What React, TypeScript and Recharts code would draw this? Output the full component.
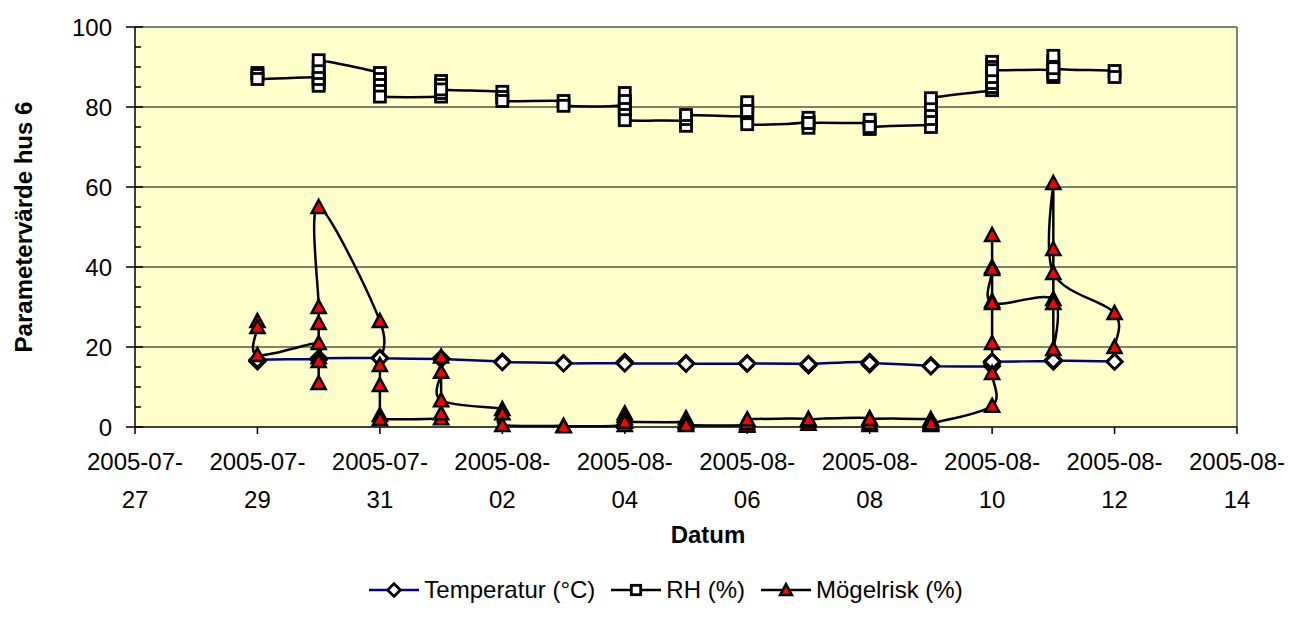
import React from "react";
import {
  LineChart,
  Line,
  XAxis,
  YAxis,
  CartesianGrid,
  Legend,
  ReferenceLine,
} from "recharts";

// Dagar efter 2005-07-27 (flera mätningar per dag)
const dagar = [
  2, 2, 2,
  3, 3, 3, 3, 3, 3, 3,
  4, 4, 4, 4, 4,
  5, 5, 5, 5, 5,
  6, 6, 6,
  7, 7,
  8, 8, 8, 8, 8, 8,
  9, 9, 9, 9,
  10, 10, 10, 10, 10,
  11, 11, 11, 11,
  12, 12, 12, 12,
  13, 13, 13, 13, 13, 13,
  14, 14, 14, 14, 14, 14, 14, 14,
  15, 15, 15, 15, 15, 15,
  16, 16,
];

const temperatur = [
  16.4, 16.6, 16.8,
  17.0, 16.8, 16.9, 17.1, 17.0, 17.1, 17.2,
  17.3, 17.2, 17.2, 17.3, 17.2,
  17.0, 17.1, 17.2, 17.0, 17.0,
  16.4, 16.3, 16.2,
  16.0, 15.9,
  16.0, 16.2, 16.3, 16.1, 16.0, 15.9,
  15.9, 16.0, 15.9, 15.8,
  15.9, 16.0, 15.9, 15.8, 15.9,
  15.8, 15.4, 15.5, 15.7,
  16.3, 15.6, 15.8, 16.0,
  15.3, 15.2, 15.3, 15.4, 15.3, 15.2,
  15.2, 15.8, 16.3, 16.3, 16.2, 16.3, 16.4, 16.3,
  16.5, 16.3, 16.8, 16.9, 16.7, 16.6,
  16.4, 16.3,
];

const rh = [
  88.5, 88.0, 87.0,
  87.4, 86.0, 85.3, 87.0, 88.5, 90.0, 91.7,
  88.5, 87.0, 85.5, 84.0, 82.6,
  82.6, 83.5, 86.5, 85.5, 84.4,
  83.8, 82.5, 81.5,
  81.5, 80.3,
  80.5, 83.5, 81.5, 79.5, 78.0, 76.7,
  76.5, 75.3, 77.0, 78.0,
  77.8, 80.5, 81.2, 79.0, 75.7,
  76.2, 77.3, 74.8, 76.0,
  76.0, 76.8, 74.5, 75.0,
  75.5, 75.0, 77.0, 79.0, 80.5, 82.2,
  84.2, 85.0, 86.0, 87.5, 90.5, 91.3, 90.0, 89.2,
  89.2, 87.5, 88.0, 91.5, 92.8, 89.7,
  89.0, 87.5,
];

const mogelrisk = [
  26.5, 25.0, 18.0,
  21.0, 17.5, 11.0, 16.5, 26.0, 30.0, 55.0,
  26.5, 15.5, 10.5, 3.0, 2.0,
  2.2, 3.4, 17.6, 13.8, 6.7,
  4.5, 3.4, 0.5,
  0.3, 0.2,
  0.5, 3.4, 2.8, 2.2, 1.5, 1.3,
  1.3, 2.2, 1.0, 0.5,
  0.5, 1.8, 0.3, 1.0, 1.9,
  2.0, 0.8, 1.5, 1.9,
  2.2, 0.5, 1.0, 2.0,
  2.0, 1.5, 0.5, 0.8, 1.2, 0.9,
  5.3, 13.5, 21.0, 31.5, 40.0, 48.0, 39.5, 31.0,
  32.0, 19.5, 31.0, 44.5, 61.0, 38.5,
  28.5, 20.0,
];

const xTicks = [0, 2, 4, 6, 8, 10, 12, 14, 16, 18];
const xTickTop = [
  "2005-07-", "2005-07-", "2005-07-", "2005-08-", "2005-08-",
  "2005-08-", "2005-08-", "2005-08-", "2005-08-", "2005-08-",
];
const xTickBottom = ["27", "29", "31", "02", "04", "06", "08", "10", "12", "14"];
const yTicks = Array.from({ length: 21 }, (_, i) => i * 5);
const legendOrder = ["temp", "rh", "mogel"];

const data = dagar.map((d, i) => ({
  dag: d,
  temp: temperatur[i],
  rh: rh[i],
  mogel: mogelrisk[i],
}));

const FONT = '"Liberation Sans", Arial, sans-serif';

// Excel-liknande utjämnad linje (Catmull-Rom som Bezier)
const excelSmooth = (context: any) => {
  let pts: number[][] = [];
  return {
    areaStart() {},
    areaEnd() {},
    lineStart() {
      pts = [];
    },
    point(x: number, y: number) {
      pts.push([+x, +y]);
    },
    lineEnd() {
      if (!pts.length) return;
      context.moveTo(pts[0][0], pts[0][1]);
      for (let i = 0; i < pts.length - 1; i++) {
        const p0 = pts[i - 1] || pts[i];
        const p1 = pts[i];
        const p2 = pts[i + 1];
        const p3 = pts[i + 2] || p2;
        context.bezierCurveTo(
          p1[0] + (p2[0] - p0[0]) / 6,
          p1[1] + (p2[1] - p0[1]) / 6,
          p2[0] - (p3[0] - p1[0]) / 6,
          p2[1] - (p3[1] - p1[1]) / 6,
          p2[0],
          p2[1]
        );
      }
    },
  };
};

const markerShape = (kind: string, cx: number, cy: number, s = 1, key?: string) => {
  if (kind === "temp") {
    const r = 7.5 * s;
    return (
      <path
        key={key}
        d={`M${cx},${cy - r}L${cx + r},${cy}L${cx},${cy + r}L${cx - r},${cy}Z`}
        fill="#fff"
        stroke="#000"
        strokeWidth={2.8}
      />
    );
  }
  if (kind === "rh") {
    const w = 5.5 * s;
    return (
      <rect
        key={key}
        x={cx - w}
        y={cy - w}
        width={2 * w}
        height={2 * w}
        fill="#fff"
        stroke="#000"
        strokeWidth={2.8}
      />
    );
  }
  const h = 7 * s;
  return (
    <path
      key={key}
      d={`M${cx},${cy - h}L${cx + h},${cy + h * 0.85}L${cx - h},${cy + h * 0.85}Z`}
      fill="#ff0000"
      stroke="#000"
      strokeWidth={2.5}
    />
  );
};

const makeDot = (kind: string) => (p: any) => {
  if (p.cx == null || p.cy == null) return null;
  return markerShape(kind, p.cx, p.cy, 1, `${kind}-${p.index}`);
};

const XTick = (props: any) => {
  const { x, y, payload } = props;
  const i = xTicks.indexOf(payload.value);
  return (
    <text x={x} y={y} textAnchor="middle" fontSize={24} fontFamily={FONT} fill="#000">
      <tspan x={x} dy={36}>{xTickTop[i]}</tspan>
      <tspan x={x} dy={38}>{xTickBottom[i]}</tspan>
    </text>
  );
};

const YTick = (props: any) => {
  const { x, y, payload } = props;
  const major = payload.value % 20 === 0;
  return (
    <g>
      {major ? (
        <line x1={x - 9} x2={x + 8} y1={y} y2={y} stroke="#000" strokeWidth={1.5} />
      ) : (
        <line x1={x} x2={x + 6} y1={y} y2={y} stroke="#000" strokeWidth={1.5} />
      )}
      {major && (
        <text x={x - 23} y={y} dy="0.36em" textAnchor="end" fontSize={24} fontFamily={FONT} fill="#000">
          {payload.value}
        </text>
      )}
    </g>
  );
};

const renderLegend = (props: any) => {
  const items = [...(props.payload || [])].sort(
    (a: any, b: any) => legendOrder.indexOf(a.dataKey) - legendOrder.indexOf(b.dataKey)
  );
  return (
    <div
      style={{
        display: "flex",
        justifyContent: "center",
        alignItems: "center",
        fontSize: 24,
        fontFamily: FONT,
        whiteSpace: "nowrap",
        color: "#000",
      }}
    >
      {items.map((entry: any) => (
        <div key={entry.value} style={{ display: "flex", alignItems: "center", margin: "0 8px" }}>
          <svg width={50} height={22}>
            <line x1={0} x2={50} y1={11} y2={11} stroke={entry.color} strokeWidth={2.5} />
            {markerShape(entry.dataKey, 25, 11, 0.85)}
          </svg>
          <span style={{ marginLeft: 5 }}>{entry.value}</span>
        </div>
      ))}
    </div>
  );
};

const App: React.FC = () => {
  return (
    <div style={{ position: "absolute", left: 0, top: 0, width: 1292, height: 626, background: "#fff", fontFamily: FONT }}>
      <LineChart width={1292} height={626} data={data} margin={{ top: 27, right: 55, left: 0, bottom: 0 }}>
        <CartesianGrid
          vertical={false}
          horizontalValues={[20, 40, 60, 80]}
          fill="#FFFFCC"
          fillOpacity={1}
          stroke="#000"
          strokeWidth={1}
        />
        <XAxis
          dataKey="dag"
          type="number"
          domain={[0, 18]}
          ticks={xTicks}
          interval={0}
          tickSize={7}
          tickMargin={0}
          height={169}
          axisLine={{ stroke: "#000", strokeWidth: 1.5 }}
          tickLine={{ stroke: "#000", strokeWidth: 1.5 }}
          tick={<XTick />}
          label={{
            content: (p: any) => {
              const vb = p.viewBox || {};
              return (
                <text
                  x={vb.x + vb.width / 2 + 22}
                  y={vb.y + 116}
                  textAnchor="middle"
                  fontSize={24}
                  fontWeight="bold"
                  fontFamily={FONT}
                  fill="#000"
                >
                  Datum
                </text>
              );
            },
          }}
        />
        <YAxis
          type="number"
          domain={[0, 100]}
          ticks={yTicks}
          interval={0}
          width={135}
          tickSize={0}
          tickMargin={0}
          tickLine={false}
          axisLine={{ stroke: "#000", strokeWidth: 1.5 }}
          tick={<YTick />}
          label={{
            content: (p: any) => {
              const vb = p.viewBox || {};
              const cy = vb.y + vb.height / 2;
              return (
                <text
                  x={32}
                  y={cy}
                  transform={`rotate(-90, 32, ${cy})`}
                  textAnchor="middle"
                  fontSize={24}
                  fontWeight="bold"
                  fontFamily={FONT}
                  fill="#000"
                >
                  Parametervärde hus 6
                </text>
              );
            },
          }}
        />
        <ReferenceLine y={100} stroke="#808080" strokeWidth={2} />
        <ReferenceLine x={18} stroke="#808080" strokeWidth={2} />
        <Legend
          verticalAlign="bottom"
          content={renderLegend}
          wrapperStyle={{ left: 296, bottom: 20, width: 740, height: 30 }}
        />
        <Line
          dataKey="temp"
          name="Temperatur (°C)"
          type={excelSmooth as any}
          stroke="#000080"
          strokeWidth={2.5}
          dot={makeDot("temp")}
          activeDot={false}
          isAnimationActive={false}
        />
        <Line
          dataKey="rh"
          name="RH (%)"
          type={excelSmooth as any}
          stroke="#000"
          strokeWidth={2.5}
          dot={makeDot("rh")}
          activeDot={false}
          isAnimationActive={false}
        />
        <Line
          dataKey="mogel"
          name="Mögelrisk (%)"
          type={excelSmooth as any}
          stroke="#000"
          strokeWidth={2.5}
          dot={makeDot("mogel")}
          activeDot={false}
          isAnimationActive={false}
        />
      </LineChart>
    </div>
  );
};

export default App;
